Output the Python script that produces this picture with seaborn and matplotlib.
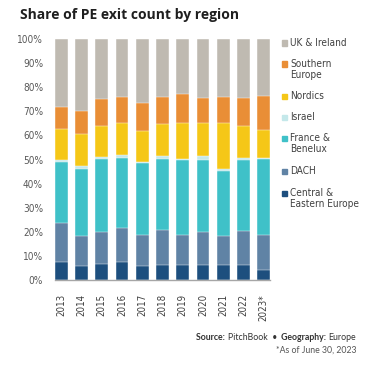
import matplotlib
matplotlib.use('Agg')
import matplotlib.pyplot as plt
import pandas as pd
import seaborn as sns
from matplotlib.patches import Rectangle

years = ['2013', '2014', '2015', '2016', '2017', '2018', '2019', '2020', '2021', '2022', '2023*']

# shares in % (bottom to top)
cee = [7.6, 5.8, 6.6, 7.5, 5.8, 6.2, 6.2, 6.2, 6.2, 6.2, 4.1]
dach = [16.0, 12.5, 13.3, 14.1, 13.0, 14.7, 12.6, 13.8, 12.1, 14.3, 14.7]
france = [25.5, 27.7, 30.4, 29.2, 29.6, 29.4, 31.1, 29.9, 26.8, 29.4, 31.3]
israel = [0.6, 1.4, 0.7, 1.1, 0.6, 1.2, 0.4, 1.7, 1.1, 0.7, 0.4]
nordics = [12.8, 13.3, 12.8, 13.4, 12.8, 13.2, 15.0, 13.7, 19.1, 13.3, 11.6]
southern = [9.3, 9.6, 11.2, 10.8, 11.8, 11.4, 11.9, 10.3, 10.8, 11.7, 14.1]
uk = [28.2, 29.7, 25.0, 23.9, 26.4, 23.9, 22.8, 24.4, 23.9, 24.4, 23.8]

regions = ['Central &\nEastern Europe', 'DACH', 'France &\nBenelux', 'Israel',
           'Nordics', 'Southern\nEurope', 'UK & Ireland']
colors = ['#1D4F7E', '#6083A5', '#3FC1C8', '#C4E8EA', '#F5C717', '#E98E36', '#BFBAB1']

df = pd.DataFrame(dict(zip(regions, [cee, dach, france, israel, nordics, southern, uk])), index=years)
cum = df.cumsum(axis=1)

sns.set_style('white')
plt.rcParams['font.family'] = ['DejaVu Sans']
plt.rcParams['font.stretch'] = 'condensed'

fig = plt.figure(figsize=(3.86, 3.71), dpi=100)
ax = fig.add_axes([55 / 386, 1 - 280 / 371, 215 / 386, 241 / 371])

# stacked bars: draw cumulative totals from the top segment down
for col, c in reversed(list(zip(regions, colors))):
    sns.barplot(x=years, y=cum[col].values, color=c, saturation=1, width=0.635,
                edgecolor='white', linewidth=0.3, ax=ax)

ax.set_xlim(-0.3175, 10.3175)
ax.set_ylim(0, 100)
ax.set_yticks(range(0, 101, 10))
ax.set_yticklabels([f'{v}%' for v in range(0, 101, 10)])
ax.tick_params(axis='y', length=0, pad=8.6, labelsize=7.2, colors='#595959')
ax.tick_params(axis='x', length=0, pad=10, labelsize=7, rotation=90, colors='#404040')
ax.set_xlabel('')
ax.set_ylabel('')
for s in ['top', 'right', 'left']:
    ax.spines[s].set_visible(False)
ax.spines['bottom'].set_color('#A6A6A6')
ax.spines['bottom'].set_linewidth(1)

fig.text(20 / 386, 1 - 18.5 / 371, 'Share of PE exit count by region', fontfamily='Open Sans',
         fontweight='bold', fontstretch='normal', fontsize=10, va='baseline', color='#1F1F1F')

# legend, top to bottom
leg_y = {'UK & Ireland': 43, 'Southern\nEurope': 64, 'Nordics': 96, 'Israel': 117,
         'France &\nBenelux': 138, 'DACH': 171, 'Central &\nEastern Europe': 193}
for col, c in zip(regions, colors):
    yc = leg_y[col]
    fig.patches.append(Rectangle((282 / 386, 1 - (yc + 2.5) / 371), 5 / 386, 5 / 371,
                                 transform=fig.transFigure, color=c))
    for i, line in enumerate(col.split('\n')):
        fig.text(290.5 / 386, 1 - (yc + 3.3 + i * 10.7) / 371, line, fontsize=7.2,
                 va='baseline', color='#404040')

# source note, right aligned
r = fig.canvas.get_renderer()
x = 356
parts = [('Source: ', 'bold'), ('PitchBook  \u2022  ', 'normal'), ('Geography: ', 'bold'), ('Europe', 'normal')]
for txt, w in reversed(parts):
    t = fig.text(x / 386, 1 - 339.5 / 371, txt, ha='right', va='baseline', fontsize=6.3,
                 fontweight=w, fontfamily='Lato', fontstretch='normal', color='#333333')
    x = t.get_window_extent(r).x0
fig.text(356 / 386, 1 - 352.5 / 371, '*As of June 30, 2023', ha='right', va='baseline',
         fontsize=6.3, fontfamily='Lato', fontstretch='normal', color='#555555')

fig.savefig('out.png', dpi=100)
